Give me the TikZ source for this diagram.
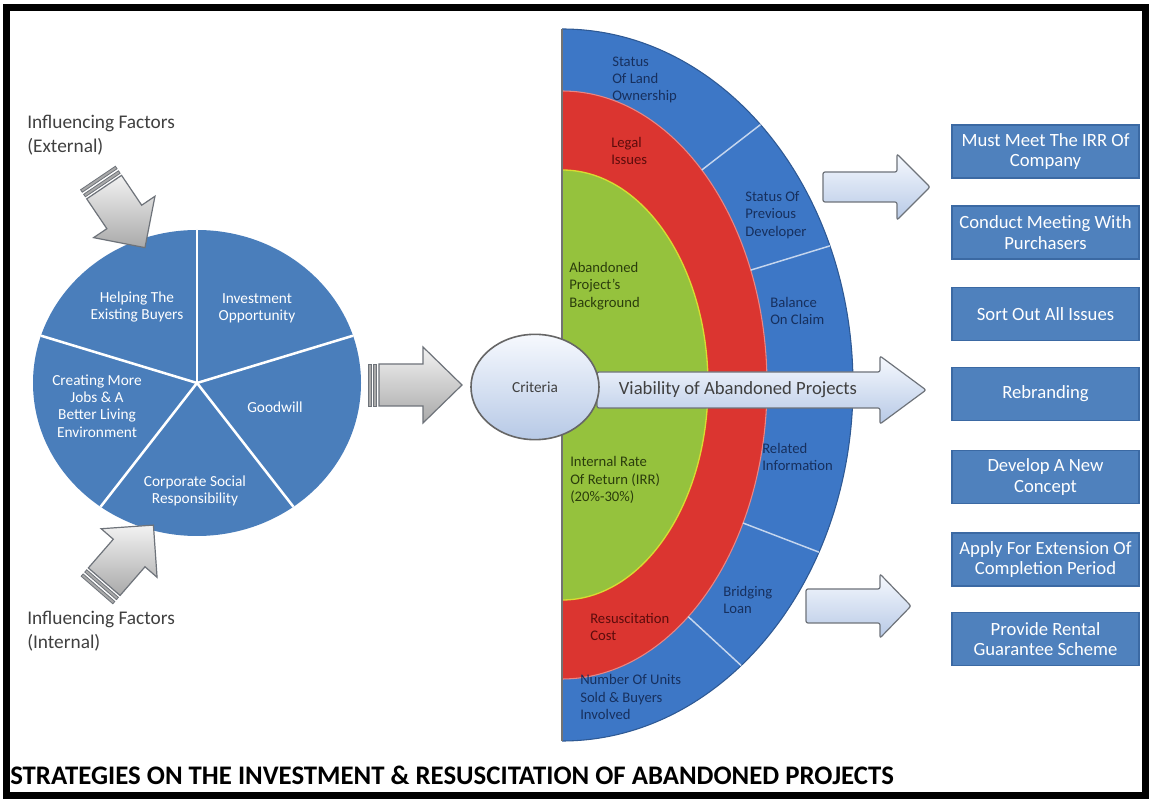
\documentclass[tikz,border=0pt]{standalone}
\usepackage{fontspec}
\setmainfont{Carlito}
\usetikzlibrary{shapes.geometric,calc}

\definecolor{pieblue}{HTML}{4A7EBB}
\definecolor{ringblue}{HTML}{3D77C6}
\definecolor{ringred}{HTML}{DB3530}
\definecolor{ringgreen}{HTML}{95C23D}
\definecolor{boxblue}{HTML}{4F81BD}
\definecolor{boxedge}{HTML}{3B69A3}
\definecolor{navytext}{HTML}{17305E}
\definecolor{redtext}{HTML}{5C0C0C}
\definecolor{greentext}{HTML}{2B3D0C}
\definecolor{greytext}{HTML}{404040}
\definecolor{arrowedge}{HTML}{6E737A}
\definecolor{greyhi}{HTML}{F2F2F2}
\definecolor{greylo}{HTML}{A9A9A9}
\definecolor{bluehi}{HTML}{F6F9FE}
\definecolor{bluelo}{HTML}{B7C9E6}

\tikzset{
  % striped grey block arrow: length / shaft half-width / head half-width / head length
  pics/greyarrow/.style args={#1/#2/#3/#4}{code={
    \path[draw=arrowedge, line width=0.9pt, top color=greyhi, bottom color=greylo]
      (11,-#2) -- ({#1-#4},-#2) -- ({#1-#4},-#3) -- (#1,0) -- ({#1-#4},#3)
      -- ({#1-#4},#2) -- (11,#2) -- cycle;
    \path[draw=arrowedge, line width=0.6pt, fill=greylo] (0,-#2) rectangle (3,#2);
    \path[draw=arrowedge, line width=0.6pt, fill=greylo] (5.5,-#2) rectangle (8.5,#2);
  }},
  % light blue block arrow: length / shaft half-width / head half-width / head length
  pics/bluearrow/.style args={#1/#2/#3/#4}{code={
    \path[draw=arrowedge, line width=0.9pt, rounded corners=1.5pt,
          top color=bluehi, bottom color=bluelo]
      (0,-#2) -- ({#1-#4},-#2) -- ({#1-#4},-#3) -- (#1,0) -- ({#1-#4},#3)
      -- ({#1-#4},#2) -- (0,#2) -- cycle;
  }},
  pielabel/.style={text=white, align=center, inner sep=0pt,
    font=\fontsize{11.5}{13}\selectfont},
  ringlabel/.style={anchor=west, align=left, inner sep=0pt,
    font=\fontsize{11}{13}\selectfont},
  factorlabel/.style={anchor=west, align=left, inner sep=0pt, text=greytext,
    font=\fontsize{14.5}{18}\selectfont},
  stratbox/.style={draw=boxedge, line width=0.8pt, fill=boxblue, text=white,
    minimum width=140.25pt, minimum height=39.75pt, align=center, inner sep=1pt,
    font=\fontsize{14}{15.5}\selectfont},
  ringsep/.style={draw=white!70!ringblue, line width=1.1pt},
  pieslice/.style={draw=white, line width=1.9pt},
}

\begin{document}
\begin{tikzpicture}[x=0.75pt,y=0.75pt]
\useasboundingbox (0,0) rectangle (1150,800);
\fill[white] (0,0) rectangle (1150,800);

% ---------- pie of investment motives ----------
\coordinate (pc) at (197,417);
\fill[pieblue] (pc) ellipse [x radius=164, y radius=153];
\foreach \a in {90,18,-54,-126,162}
  \draw[pieslice] (pc) -- ++(\a:164 and 153);

\node[pielabel] (help) at (137,493) {Helping The\\Existing Buyers};
\node[pielabel] (invest) at (257,492) {Investment\\Opportunity};
\node[pielabel] (goodwill) at (275,393) {Goodwill};
\node[pielabel] (jobs) at (97,394) {Creating More\\Jobs \& A\\Better Living\\Environment};
\node[pielabel] (csr) at (195,309) {Corporate Social\\Responsibility};

% ---------- influencing factors ----------
\node[factorlabel] (extf) at (27,665) {Influencing Factors\\(External)};
\node[factorlabel] (intf) at (27,169) {Influencing Factors\\(Internal)};
\coordinate (exttail) at (98,622);
\coordinate (inttail) at (97,210);
\pic[rotate=-56] at (exttail) {greyarrow=84/21/37/37};
\pic[rotate=49] at (inttail) {greyarrow=86/21/37/37};

% ---------- arrow from pie to criteria ----------
\coordinate (midtail) at (368,415);
\pic at (midtail) {greyarrow=94/21/38/39};

% ---------- nested criteria rings ----------
\coordinate (rc) at (562,415);
\fill[ringblue] (562,771) arc[start angle=90, end angle=-90, x radius=291, y radius=356] -- cycle;
\draw[ringblue!75!black, line width=0.8pt] (562,771) arc[start angle=90, end angle=-90, x radius=291, y radius=356];
\fill[ringred] (562,709) arc[start angle=90, end angle=-90, x radius=205, y radius=294] -- cycle;
\draw[ringred!60!white, line width=0.8pt] (562,709) arc[start angle=90, end angle=-90, x radius=205, y radius=294];
\fill[ringgreen] (562,630) arc[start angle=90, end angle=-90, x radius=146, y radius=215] -- cycle;
\draw[yellow!60!ringgreen, line width=1pt] (562,630) arc[start angle=90, end angle=-90, x radius=146, y radius=215];
\draw[black!55, line width=1.5pt] (562,59) -- (562,771);

\foreach \a in {47,23,-28,-52}
  \draw[ringsep] ($(rc)+(\a:205 and 294)$) -- ($(rc)+(\a:291 and 356)$);

\node[ringlabel, text=navytext] (land) at (612,720) {Status\\Of Land\\Ownership};
\node[ringlabel, text=redtext] (legal) at (611,649) {Legal\\Issues};
\node[ringlabel, text=navytext] (prevdev) at (745,585) {Status Of\\Previous\\Developer};
\node[ringlabel, text=greentext] (background) at (569,514) {Abandoned\\Project's\\Background};
\node[ringlabel, text=navytext] (claim) at (770,489) {Balance\\On Claim};
\node[ringlabel, text=navytext] (related) at (762,343) {Related\\Information};
\node[ringlabel, text=greentext] (irr) at (570,320) {Internal Rate\\Of Return (IRR)\\(20\%-30\%)};
\node[ringlabel, text=redtext] (cost) at (590,173) {Resuscitation\\Cost};
\node[ringlabel, text=navytext] (loan) at (723,200) {Bridging\\Loan};
\node[ringlabel, text=navytext] (units) at (580,103) {Number Of Units\\Sold \& Buyers\\Involved};

% ---------- viability arrow and criteria ----------
\coordinate (viabtail) at (597,410);
\pic at (viabtail) {bluearrow=329/18/34/46};
\node[text=greytext, inner sep=0pt, font=\fontsize{14}{16}\selectfont] (viab) at (738,410)
  {Viability of Abandoned Projects};

\node[ellipse, draw=black!60, line width=1.2pt, top color=bluehi, bottom color=bluelo,
      minimum width=96pt, minimum height=79pt, text=greytext,
      font=\fontsize{11.5}{13}\selectfont] (crit) at (535,413) {Criteria};

% ---------- arrows to strategies ----------
\coordinate (uptail) at (823,613);
\coordinate (lowtail) at (806,194);
\pic at (uptail) {bluearrow=107/15/33/33};
\pic at (lowtail) {bluearrow=105/17/32/31};

% ---------- strategy boxes ----------
\node[stratbox] (s1) at (1045.5,648.5) {Must Meet The IRR Of\\Company};
\node[stratbox] (s2) at (1045.5,567.5) {Conduct Meeting With\\Purchasers};
\node[stratbox] (s3) at (1045.5,486) {Sort Out All Issues};
\node[stratbox] (s4) at (1045.5,406) {Rebranding};
\node[stratbox] (s5) at (1045.5,323) {Develop A New\\Concept};
\node[stratbox] (s6) at (1045.5,240.5) {Apply For Extension Of\\Completion Period};
\node[stratbox] (s7) at (1045.5,161) {Provide Rental\\Guarantee Scheme};

% ---------- title and frame ----------
\node[anchor=west, inner sep=0pt, font=\fontsize{20.1}{22}\selectfont\bfseries] (title)
  at (10,25) {STRATEGIES ON THE INVESTMENT \& RESUSCITATION OF ABANDONED PROJECTS};
\draw[black, line width=5.25pt] (6,4) rectangle (1145,792);
\end{tikzpicture}
\end{document}
